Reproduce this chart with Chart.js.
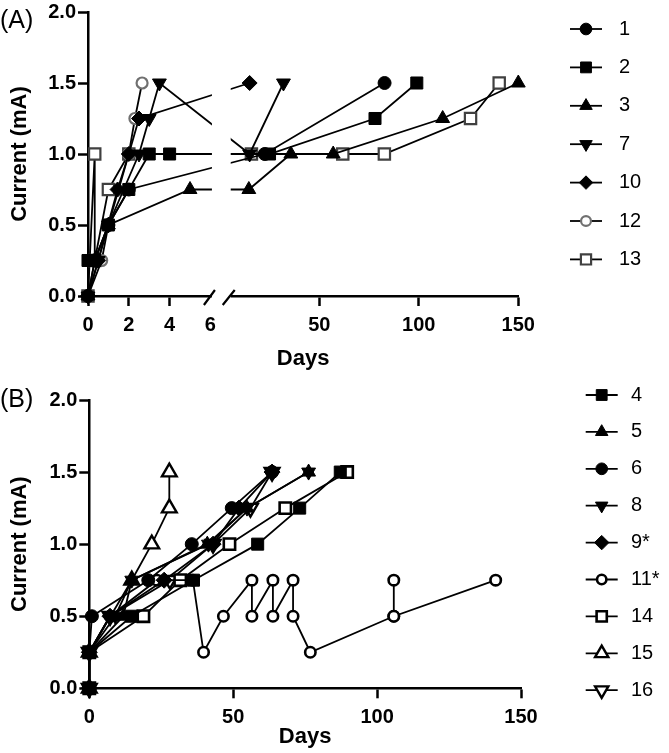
<!DOCTYPE html>
<html>
<head>
<meta charset="utf-8">
<script src="https://cdn.jsdelivr.net/npm/chart.js@4.4.1/dist/chart.umd.min.js"></script>
<style>
  html, body { margin: 0; padding: 0; background: #fff; }
  #wrap { position: relative; width: 669px; height: 753px; overflow: hidden; font-family: "Liberation Sans", Arial, sans-serif; }
  canvas { position: absolute; left: 0; }
  .panel { position: absolute; left: 0; font-size: 25px; line-height: 25px; color: #000; }
</style>
</head>
<body>
<div id="wrap">
  <canvas id="chartA" width="669" height="378" style="top:0;width:669px;height:378px"></canvas>
  <canvas id="chartB" width="669" height="375" style="top:378px;width:669px;height:375px"></canvas>
  <div class="panel" style="top:7px">(A)</div>
  <div class="panel" style="top:386px">(B)</div>
</div>
<script>
/* ---- data ---- */
const xTicksA = [0, 2, 4, 6, 50, 100, 150];
const xTicksB = [0, 50, 100, 150];
const yTicks = [0, 0.5, 1, 1.5, 2];

// Panel A
const daysA1 = [0, 0.33, 1, 2, 22.6, 82.8];
const currA1 = [0, 0.25, 0.5, 0.75, 1.0, 1.5];
const daysA2 = [0, 0.33, 1, 2, 3, 4, 25, 78, 99];
const currA2 = [0.25, 0.25, 0.5, 0.75, 1.0, 1.0, 1.0, 1.25, 1.5];
const daysA3 = [0, 0.33, 1, 5, 14.6, 35.7, 57, 112, 150];
const currA3 = [0, 0.25, 0.5, 0.75, 0.75, 1.0, 1.0, 1.25, 1.5];
const daysA7 = [0, 0.5, 1, 2.5, 3, 3.5, 15, 32];
const currA7 = [0, 0.25, 0.5, 1.0, 1.25, 1.5, 1.0, 1.5];
const daysA10 = [0, 0.5, 1.45, 2, 2.5, 15];
const currA10 = [0, 0.25, 0.75, 1.0, 1.25, 1.5];
const daysA12 = [0, 0.67, 1, 2, 2.3, 2.65];
const currA12 = [0, 0.25, 0.5, 1.0, 1.25, 1.5];
const daysA13 = [0, 0.33, 0.33, 1, 2, 15.9, 61.8, 82.7, 126, 140.4];
const currA13 = [0, 1.0, 0.25, 0.75, 1.0, 1.0, 1.0, 1.0, 1.25, 1.5];

// Panel B
const daysB4 = [0, 14.7, 36.2, 58.5, 73.1, 87.2];
const currB4 = [0.25, 0.5, 0.75, 1.0, 1.25, 1.5];
const daysB5 = [0, 0, 11.8, 14.75, 41, 54.8, 76.2];
const currB5 = [0, 0.25, 0.5, 0.75, 1.0, 1.25, 1.5];
const daysB6 = [0, 0, 0.9, 20.5, 35.6, 49.5, 63.5];
const currB6 = [0, 0.25, 0.5, 0.75, 1.0, 1.25, 1.5];
const daysB8 = [0, 0, 9, 14.75, 41.4, 54.8, 76.2];
const currB8 = [0, 0.25, 0.5, 0.75, 1.0, 1.25, 1.5];
const daysB9 = [0, 0, 7.2, 26, 43, 52, 63.5];
const currB9 = [0, 0.25, 0.5, 0.75, 1.0, 1.25, 1.5];
const daysB11 = [0, 0, 7.2, 23.5, 36, 39.7, 46.6, 56.5, 56.5, 63.8, 63.8, 70.8, 70.8, 76.8, 105.8, 105.8, 105.8, 141.2];
const currB11 = [0, 0.25, 0.5, 0.75, 0.75, 0.25, 0.5, 0.75, 0.5, 0.75, 0.5, 0.75, 0.5, 0.25, 0.5, 0.75, 0.5, 0.75];
const daysB14 = [0, 0, 18.8, 31.6, 48.7, 68.1, 89.6];
const currB14 = [0, 0.25, 0.5, 0.75, 1.0, 1.25, 1.5];
const daysB15 = [0, 0, 14.75, 21.7, 27.8, 27.8];
const currB15 = [0, 0.25, 0.75, 1.0, 1.25, 1.5];
const daysB16 = [0, 0, 7.2, 28, 43, 56, 63.5];
const currB16 = [0, 0.25, 0.5, 0.75, 1.0, 1.25, 1.5];

/* ---- fonts ---- */
const FAMILY = '"Liberation Sans", Arial, Helvetica, sans-serif';
Chart.defaults.font.family = FAMILY;
Chart.defaults.color = '#000';
const tickFont = { family: FAMILY, size: 20, weight: 'bold', lineHeight: 1 };
const titleFont = { family: FAMILY, size: 22, weight: 'bold', lineHeight: 1.2 };

/* ---- broken x axis for panel A: 0-6 days, gap, 6-150 days ---- */
const BREAK_VALUE = 6;
const LEFT_FRAC = 0.2845;   // axis share of the 0-6 segment
const RIGHT_FRAC = 0.334;   // where the 6-150 segment starts

class BrokenScale extends Chart.LinearScale {
  static id = 'broken';
  static defaults = Chart.LinearScale.defaults;
  toDecimal(v) {
    if (v <= BREAK_VALUE) return (v - this.min) / (BREAK_VALUE - this.min) * LEFT_FRAC;
    return RIGHT_FRAC + (v - BREAK_VALUE) / (this.max - BREAK_VALUE) * (1 - RIGHT_FRAC);
  }
  getPixelForValue(v) {
    if (v === null || v === undefined || isNaN(v)) return NaN;
    return this.getPixelForDecimal(this.toDecimal(v));
  }
  getValueForPixel(p) {
    const d = this.getDecimalForPixel(p);
    if (d <= LEFT_FRAC) return this.min + d / LEFT_FRAC * (BREAK_VALUE - this.min);
    return BREAK_VALUE + (d - RIGHT_FRAC) / (1 - RIGHT_FRAC) * (this.max - BREAK_VALUE);
  }
}
Chart.register(BrokenScale);

/* white-out the gap and draw the // marks */
const axisBreak = {
  id: 'axisBreak',
  afterDatasetsDraw(chart) {
    const x = chart.scales.x;
    const area = chart.chartArea;
    const ctx = chart.ctx;
    const gl = x.getPixelForDecimal(LEFT_FRAC) + 1.5;
    const gr = x.getPixelForDecimal(RIGHT_FRAC);
    const b = area.bottom;
    ctx.save();
    ctx.fillStyle = '#fff';
    ctx.fillRect(gl, area.top - 10, gr - gl - 1, b - area.top + 22);
    ctx.strokeStyle = '#000';
    ctx.lineWidth = 2.2;
    ctx.beginPath();
    ctx.moveTo(gl - 8, b + 9); ctx.lineTo(gl + 3, b - 6);
    ctx.moveTo(gr - 9, b + 9); ctx.lineTo(gr + 3, b - 6);
    ctx.stroke();
    ctx.restore();
  }
};

/* legend at the right: line + marker + label */
const sideLegend = {
  id: 'sideLegend',
  afterDraw(chart, args, opts) {
    const ctx = chart.ctx;
    ctx.save();
    chart.data.datasets.forEach((ds, i) => {
      const y = opts.top + i * opts.step;
      ctx.strokeStyle = '#000';
      ctx.lineWidth = 1.8;
      ctx.beginPath();
      ctx.moveTo(opts.x - 16, y);
      ctx.lineTo(opts.x + 16, y);
      ctx.stroke();
      ctx.fillStyle = ds.pointBackgroundColor;
      ctx.strokeStyle = ds.pointBorderColor;
      ctx.lineWidth = ds.pointBorderWidth;
      Chart.helpers.drawPoint(ctx, {
        pointStyle: ds.pointStyle,
        rotation: ds.pointRotation || 0,
        radius: ds.pointRadius * 0.9,
        borderWidth: ds.pointBorderWidth
      }, opts.x, y);
      ctx.fillStyle = '#000';
      ctx.font = '20px ' + FAMILY;
      ctx.textBaseline = 'middle';
      ctx.textAlign = 'left';
      ctx.fillText(ds.label, opts.textX, y);
    });
    ctx.restore();
  }
};

/* marker styles */
function filled(style, r, rot) {
  return { pointStyle: style, pointRadius: r, pointRotation: rot || 0,
    pointBackgroundColor: '#000', pointBorderColor: '#000', pointBorderWidth: 1 };
}
function open(style, r, color, bw, rot) {
  return { pointStyle: style, pointRadius: r, pointRotation: rot || 0,
    pointBackgroundColor: '#fff', pointBorderColor: color, pointBorderWidth: bw };
}

function series(label, days, curr, style, order) {
  return Object.assign({
    label: label,
    data: days.map((d, i) => ({ x: d, y: curr[i] })),
    borderColor: '#000',
    borderWidth: 1.8,
    tension: 0,
    clip: false,
    order: order
  }, style);
}

function yScale(width) {
  return {
    min: 0, max: 2,
    afterBuildTicks: s => { s.ticks = yTicks.map(v => ({ value: v })); },
    afterFit: s => { s.width = width; },
    ticks: { font: tickFont, color: '#000', padding: 2, callback: v => v.toFixed(1) },
    grid: { drawOnChartArea: false, tickLength: 10, tickWidth: 2.5, tickColor: '#000' },
    border: { color: '#000', width: 2.5 },
    title: { display: true, text: 'Current (mA)', font: titleFont, color: '#000', padding: { top: 7, bottom: 0 } }
  };
}

function xScale(type, ticks, height, titlePad) {
  return {
    type: type,
    min: 0, max: 150,
    afterBuildTicks: s => { s.ticks = ticks.map(v => ({ value: v })); },
    afterFit: s => { s.height = height; },
    ticks: { font: tickFont, color: '#000', padding: 9, autoSkip: false, maxRotation: 0 },
    grid: {
      drawOnChartArea: false, tickLength: 10, tickWidth: 2.5,
      tickColor: c => (type === 'broken' && c.tick && c.tick.value === BREAK_VALUE) ? 'rgba(0,0,0,0)' : '#000'
    },
    border: { color: '#000', width: 2.5 },
    title: { display: true, text: 'Days', font: titleFont, color: '#000', padding: { top: 0, bottom: titlePad } }
  };
}

/* ---- panel A ---- */
new Chart(document.getElementById('chartA'), {
  type: 'line',
  data: {
    datasets: [
      series('1', daysA1, currA1, filled('circle', 6.5), 0),
      series('2', daysA2, currA2, filled('rect', 8.5), -1),
      series('3', daysA3, currA3, filled('triangle', 8), 1),
      series('7', daysA7, currA7, filled('triangle', 8, 180), 2),
      series('10', daysA10, currA10, filled('rectRot', 7.5), 3),
      series('12', daysA12, currA12, open('circle', 5.5, '#707070', 2.2), 4),
      series('13', daysA13, currA13, open('rect', 8, '#404040', 2.2), 5)
    ]
  },
  options: {
    responsive: false,
    animation: false,
    layout: { padding: { left: 0, top: 10, right: 150.7, bottom: 0 } },
    scales: { x: xScale('broken', xTicksA, 82, 6), y: yScale(88) },
    plugins: {
      legend: { display: false },
      tooltip: { enabled: false },
      sideLegend: { x: 586, top: 29, step: 38.4, textX: 619 }
    }
  },
  plugins: [axisBreak, sideLegend]
});

/* ---- panel B ---- */
new Chart(document.getElementById('chartB'), {
  type: 'line',
  data: {
    datasets: [
      series('4', daysB4, currB4, filled('rect', 8.5), 0),
      series('5', daysB5, currB5, filled('triangle', 8), 0),
      series('6', daysB6, currB6, filled('circle', 6.5), 0),
      series('8', daysB8, currB8, filled('triangle', 8, 180), 0),
      series('9*', daysB9, currB9, filled('rectRot', 8), 0),
      series('11*', daysB11, currB11, open('circle', 5.2, '#000', 2.6), 0),
      series('14', daysB14, currB14, open('rect', 8, '#000', 2.6), 0),
      series('15', daysB15, currB15, open('triangle', 8.5, '#000', 2.4), 0),
      series('16', daysB16, currB16, open('triangle', 8.5, '#000', 2.4, 180), 0)
    ]
  },
  options: {
    responsive: false,
    animation: false,
    layout: { padding: { left: 0, top: 22, right: 148, bottom: 0 } },
    scales: { x: xScale('linear', xTicksB, 64.7, 3), y: yScale(89.3) },
    plugins: {
      legend: { display: false },
      tooltip: { enabled: false },
      sideLegend: { x: 601.7, top: 17, step: 36.9, textX: 631 }
    }
  },
  plugins: [sideLegend]
});
</script>
</body>
</html>
